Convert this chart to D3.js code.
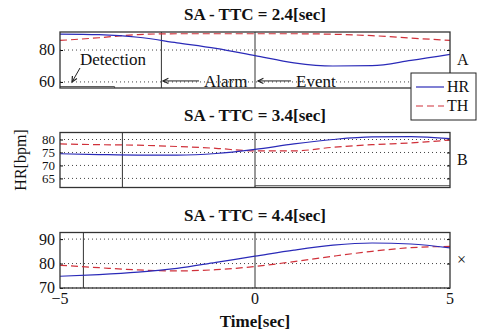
<!DOCTYPE html>
<html>
<head>
<meta charset="utf-8">
<script src="https://cdn.jsdelivr.net/npm/d3@7"></script>
</head>
<body style="margin:0">
<script>
// time axis samples (seconds relative to event)
const times = [-5, -4, -3, -2, -1, 0, 1, 2, 3, 4, 5];
const panelNames = ["A", "B", "\u00d7"];
const ttcValues = [2.4, 3.4, 4.4];

const hrA = [90, 89.6, 88, 84.5, 81, 76.5, 72, 70, 70.2, 73.5, 77.3];
const thA = [86, 87.7, 89.7, 90.2, 90.2, 90.2, 90.2, 89.9, 89, 87.5, 86];
const hrB = [74.5, 74.2, 74, 74, 74.6, 76.2, 78.3, 80, 81, 81.1, 80.3];
const thB = [78.3, 78, 77.8, 77.3, 76.6, 75.6, 75.6, 77, 78, 78.7, 79.8];
const hrC = [74.8, 75.5, 76.5, 78, 80.5, 83, 85.5, 87.5, 88.4, 88, 86.4];
const thC = [79.3, 78.3, 77.4, 77, 77.5, 78.8, 80.8, 83, 85, 86.5, 87];

const yDomains = [[56.2, 91.3], [61.5, 82.7], [70, 92.7]];
const yTicks = [[60, 80], [65, 70, 75, 80], [70, 80, 90]];
const xTicks = [-5, 0, 5];

// step traces near the bottom of panels A and B
const stepA = [[-5, 57.1], [-3.6, 57.1], [-3.6, 56.2]];
const stepB = [[0, 61.5], [0, 62.2], [5, 62.2]];

const width = 480, height = 336;
const panelTops = [32, 132.5, 232.5];
const panelBottoms = [88, 187.5, 288];

const svg = d3.select("body").append("svg")
    .attr("width", width)
    .attr("height", height);

const x = d3.scaleLinear().domain([-5, 5]).range([60, 450]);

const hrSeries = [hrA, hrB, hrC];
const thSeries = [thA, thB, thC];
const steps = [stepA, stepB, null];

// plain text helper, serif face everywhere
const label = (px, py, txt, size, opts = {}) => svg.append("text")
    .attr("x", px).attr("y", py)
    .attr("font-family", "Liberation Serif")
    .attr("font-size", size)
    .attr("font-weight", opts.bold ? "bold" : "normal")
    .attr("text-anchor", opts.anchor || "start")
    .attr("fill", "#111")
    .text(txt);

hrSeries.forEach((hr, i) => {
    const y = d3.scaleLinear().domain(yDomains[i]).range([panelBottoms[i], panelTops[i]]);
    const g = svg.append("g");

    label(x(0), panelTops[i] - 12, `SA - TTC = ${ttcValues[i]}[sec]`, 17, { bold: true, anchor: "middle" });

    // dotted grid
    g.selectAll(".grid")
        .data(yTicks[i])
        .enter().append("line")
        .attr("x1", x(-5)).attr("x2", x(5))
        .attr("y1", d => y(d)).attr("y2", d => y(d))
        .attr("stroke", "#444")
        .attr("stroke-dasharray", "1,3");

    // y ticks (inward on both sides) + labels
    g.append("g")
        .attr("transform", `translate(${x(-5)},0)`)
        .call(d3.axisLeft(y).tickValues(yTicks[i]).tickSize(-3).tickFormat(""))
        .select(".domain").remove();
    g.append("g")
        .attr("transform", `translate(${x(5)},0)`)
        .call(d3.axisRight(y).tickValues(yTicks[i]).tickSize(-3).tickFormat(""))
        .select(".domain").remove();
    const tickSize = i === 1 ? 13 : 16;
    yTicks[i].forEach(t => label(x(-5) - 5, y(t) + tickSize * 0.34, t, tickSize, { anchor: "end" }));

    if (i === 2) {
        xTicks.forEach(t => label(x(t), panelBottoms[i] + 16, d3.format("d")(t), 16, { anchor: "middle" }));
    }

    // event markers: alarm and event (t = 0)
    g.selectAll(".marker")
        .data([-ttcValues[i], 0])
        .enter().append("line")
        .attr("x1", d => x(d)).attr("x2", d => x(d))
        .attr("y1", panelTops[i]).attr("y2", panelBottoms[i])
        .attr("stroke", "#333");

    if (steps[i]) {
        g.append("path")
            .datum(steps[i])
            .attr("fill", "none")
            .attr("stroke", "#555")
            .attr("d", d3.line().x(d => x(d[0])).y(d => y(d[1])));
    }

    const line = d3.line()
        .x((d, j) => x(times[j]))
        .y(d => y(d))
        .curve(d3.curveMonotoneX);

    g.append("path")
        .datum(thSeries[i])
        .attr("fill", "none")
        .attr("stroke", "#d0313a")
        .attr("stroke-width", 1.2)
        .attr("stroke-dasharray", "7,4")
        .attr("d", line);

    g.append("path")
        .datum(hr)
        .attr("fill", "none")
        .attr("stroke", "#2a2ab8")
        .attr("stroke-width", 1.2)
        .attr("d", line);

    // frame
    g.append("rect")
        .attr("x", x(-5)).attr("y", panelTops[i])
        .attr("width", x(5) - x(-5))
        .attr("height", panelBottoms[i] - panelTops[i])
        .attr("fill", "none")
        .attr("stroke", "#333")
        .attr("stroke-width", 1.3);

    label(x(5) + 7, (panelTops[i] + panelBottoms[i]) / 2 + 5, panelNames[i], 16);
});

// annotations in panel A
const yA = d3.scaleLinear().domain(yDomains[0]).range([panelBottoms[0], panelTops[0]]);
const arrow = (x1, y1, x2, y2) => {
    svg.append("line").attr("x1", x1).attr("y1", y1).attr("x2", x2).attr("y2", y2)
        .attr("stroke", "#222");
    const a = Math.atan2(y2 - y1, x2 - x1);
    const len = 6;
    svg.append("path")
        .attr("d", `M${x2 - len * Math.cos(a - 0.45)},${y2 - len * Math.sin(a - 0.45)}L${x2},${y2}L${x2 - len * Math.cos(a + 0.45)},${y2 - len * Math.sin(a + 0.45)}`)
        .attr("fill", "none").attr("stroke", "#222").attr("stroke-width", 1.2);
};
label(80, 65, "Detection", 17);
arrow(80, 68, 72, 82);
arrow(199, yA(60) - 1, 163, yA(60) - 1);
label(204, yA(60) + 5, "Alarm", 17);
arrow(291, yA(60) - 1, 258, yA(60) - 1);
label(296, yA(60) + 5, "Event", 17);

// legend
svg.append("rect").attr("x", 411).attr("y", 73).attr("width", 65).attr("height", 47)
    .attr("fill", "#fff").attr("stroke", "#222");
svg.append("line").attr("x1", 416).attr("x2", 444).attr("y1", 87).attr("y2", 87)
    .attr("stroke", "#2a2ab8").attr("stroke-width", 1.2);
label(447, 92, "HR", 16);
svg.append("line").attr("x1", 416).attr("x2", 444).attr("y1", 106).attr("y2", 106)
    .attr("stroke", "#d0313a").attr("stroke-width", 1.2).attr("stroke-dasharray", "7,4");
label(447, 111, "TH", 16);

// axis titles
label(0, 0, "HR[bpm]", 16, { anchor: "middle" })
    .attr("transform", `translate(26,${(panelTops[1] + panelBottoms[1]) / 2}) rotate(-90)`);
label(x(0), 327, "Time[sec]", 17, { bold: true, anchor: "middle" });
</script>
</body>
</html>
